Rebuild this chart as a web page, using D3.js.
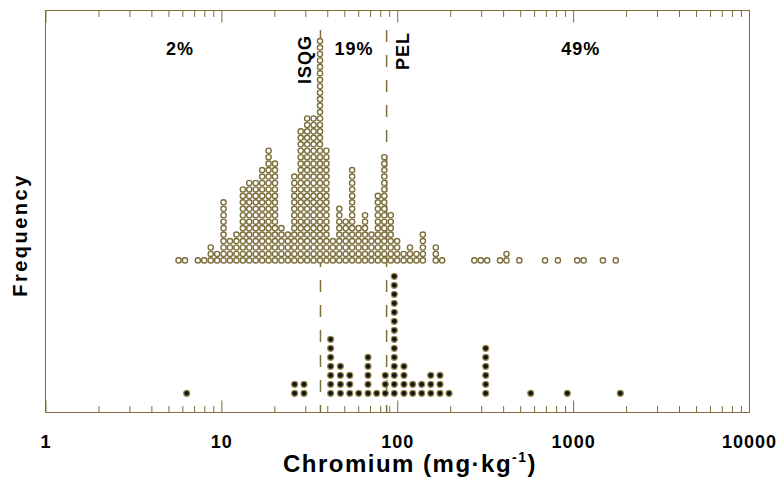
<!DOCTYPE html>
<html>
<head>
<meta charset="utf-8">
<script src="https://cdn.jsdelivr.net/npm/d3@7"></script>
<style>
    body { margin: 0; background: #fff; }
    text { font-family: "Liberation Sans", Arial, sans-serif; font-weight: bold; fill: #000; }
</style>
</head>
<body>
<div id="chart"></div>
<script>

// open circles (upper stack): column value in mg/kg and number of dots
const openValues = [5.71, 6.21, 7.35, 7.99, 8.70, 9.46, 10.29, 11.19, 12.18, 13.25,
    14.41, 15.68, 17.05, 18.55, 20.18, 21.95, 23.88, 25.98, 28.26, 30.74,
    33.44, 36.38, 39.57, 43.05, 46.83, 50.93, 55.41, 60.28, 65.57, 71.33,
    77.59, 84.42, 91.84, 99.9, 108.7, 118.2, 128.6, 139.9, 165.6, 180.1,
    274.3, 298.4, 324.6, 384.1, 417.9, 494.5, 692.4, 819.4, 1055, 1148, 1477, 1748];
const openCounts = [1, 1, 1, 1, 3, 2, 10, 4, 5, 12,
    13, 13, 15, 18, 16, 6, 5, 14, 21, 23,
    23, 35, 18, 4, 9, 7, 15, 6, 8, 5,
    11, 17, 8, 4, 2, 3, 2, 5, 3, 1,
    1, 1, 1, 1, 2, 1, 1, 1, 1, 1, 1, 1];

// filled circles (lower stack)
const filledValues = [6.35, 26.1, 29.5, 41.8, 47.5, 53.7, 60.4, 68.2, 76.4, 85.5,
    96.2, 109.2, 122.4, 137.7, 155.0, 175.0, 197.0, 318.4, 574, 926.7, 1855];
const filledCounts = [1, 2, 2, 7, 4, 3, 1, 5, 1, 3,
    14, 4, 2, 2, 3, 3, 1, 6, 1, 1, 1];

const majorTicks = [1, 10, 100, 1000, 10000];

const guideNames = ['ISQG', 'PEL'];
const guideValues = [36.6, 87];

const pctLabels = ['2%', '19%', '49%'];
const pctValues = [5.82, 56.8, 1104];

const lineColor = '#7d6e3c';
const width = 781;
const height = 478;
const plot = { left: 45.5, right: 749.5, top: 10.5, bottom: 412.5 };

const xScale = d3.scaleLog()
    .domain([1, 10000])
    .range([45.5, 749]);

// stacks: count -> vertical position
const yOpen = d3.scaleLinear().domain([0, 35]).range([260.4, 260.4 - 35 * 6.45]);
const yFilled = d3.scaleLinear().domain([0, 14]).range([393.3, 393.3 - 14 * 9]);

const svg = d3.select('#chart')
    .append('svg')
    .attr('width', width)
    .attr('height', height);

// tick marks on bottom and top, pointing inside
const minorTicks = xScale.ticks().filter(d => majorTicks.indexOf(d) < 0);

const addAxis = (axisFn, y, values, size, labels) => {
    const ax = svg.append('g')
        .attr('transform', `translate(0,${y})`)
        .call(axisFn(xScale)
            .tickValues(values)
            .tickSize(-size)
            .tickPadding(22.5)
            .tickFormat(labels ? d3.format('d') : ''));
    ax.select('.domain').remove();
    ax.selectAll('.tick line').attr('stroke', lineColor).attr('stroke-width', 1);
    ax.selectAll('.tick text')
        .style('font-size', '18px')
        .style('letter-spacing', '1px')
        .attr('fill', '#000');
    return ax;
};

addAxis(d3.axisBottom, plot.bottom, majorTicks, 12, true);
addAxis(d3.axisBottom, plot.bottom, minorTicks, 6.5, false);
addAxis(d3.axisTop, plot.top, majorTicks, 12, false);
addAxis(d3.axisTop, plot.top, minorTicks, 6.5, false);

svg.append('rect')
    .attr('x', plot.left)
    .attr('y', plot.top)
    .attr('width', plot.right - plot.left)
    .attr('height', plot.bottom - plot.top)
    .attr('fill', 'none')
    .attr('stroke', lineColor)
    .attr('stroke-width', 1);

// guideline dashes
svg.selectAll('.guide')
    .data(guideValues)
    .join('line')
    .attr('class', 'guide')
    .attr('x1', d => xScale(d))
    .attr('x2', d => xScale(d))
    .attr('y1', 30)
    .attr('y2', plot.bottom)
    .attr('stroke', lineColor)
    .attr('stroke-width', 1.5)
    .attr('stroke-dasharray', '12,13');

const labelDx = [-9, 22];
const labelTop = [35, 32];
svg.selectAll('.guideLabel')
    .data(guideNames)
    .join('text')
    .attr('class', 'guideLabel')
    .attr('transform', (d, i) => `translate(${xScale(guideValues[i]) + labelDx[i]},${labelTop[i]}) rotate(-90)`)
    .attr('text-anchor', 'end')
    .style('font-size', '18px')
    .style('letter-spacing', '1px')
    .text(d => d);

svg.selectAll('.pct')
    .data(pctLabels)
    .join('text')
    .attr('class', 'pct')
    .attr('x', (d, i) => xScale(pctValues[i]))
    .attr('y', 55)
    .attr('text-anchor', 'middle')
    .style('font-size', '18px')
    .style('letter-spacing', '1px')
    .text(d => d);

// expand columns into dots
const stack = (values, counts) => {
    var dots = [];
    values.forEach((v, i) => {
        for (let r = 0; r < counts[i]; r++) dots.push({ value: v, row: r });
    });
    return dots;
};

svg.append('g')
    .selectAll('circle')
    .data(stack(openValues, openCounts))
    .join('circle')
    .attr('cx', d => xScale(d.value))
    .attr('cy', d => yOpen(d.row))
    .attr('r', 2.6)
    .attr('fill', '#fff')
    .attr('stroke', lineColor)
    .attr('stroke-width', 1.4);

svg.append('g')
    .selectAll('circle')
    .data(stack(filledValues, filledCounts))
    .join('circle')
    .attr('cx', d => xScale(d.value))
    .attr('cy', d => yFilled(d.row))
    .attr('r', 3)
    .attr('fill', '#141410')
    .attr('stroke', '#9a8b55')
    .attr('stroke-width', 1.2);

// axis titles
const xTitle = svg.append('text')
    .attr('x', 410)
    .attr('y', 472)
    .attr('text-anchor', 'middle')
    .style('font-size', '24px')
    .style('letter-spacing', '1.5px');
xTitle.append('tspan').text('Chromium (mg·kg');
xTitle.append('tspan').attr('dy', -10).style('font-size', '14px').text('-1');
xTitle.append('tspan').attr('dy', 10).text(')');

svg.append('text')
    .attr('transform', 'translate(27,235) rotate(-90)')
    .attr('text-anchor', 'middle')
    .style('font-size', '20px')
    .style('letter-spacing', '2.5px')
    .text('Frequency');

</script>
</body>
</html>
